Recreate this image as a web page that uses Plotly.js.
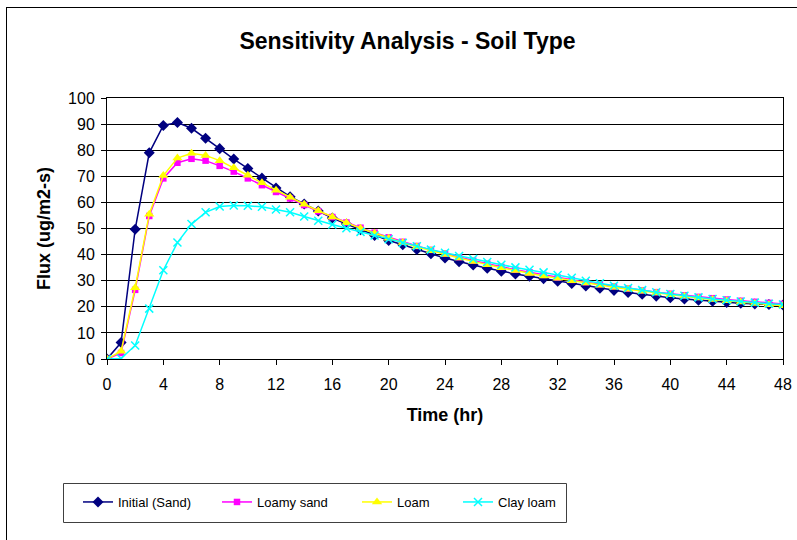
<!DOCTYPE html>
<html>
<head>
<meta charset="utf-8">
<script src="https://cdn.plot.ly/plotly-3.0.1.min.js"></script>
<style>
  html, body { margin: 0; padding: 0; background: #fff; }
  #chart { width: 797px; height: 540px; }
</style>
</head>
<body>
<div id="chart"></div>
<script>
const timeHr = [0,1,2,3,4,5,6,7,8,9,10,11,12,13,14,15,16,17,18,19,20,21,22,23,24,25,26,27,28,29,30,31,32,33,34,35,36,37,38,39,40,41,42,43,44,45,46,47,48];

const fluxSand = [0,6.3,49.7,79,89.5,90.6,88.4,84.6,80.6,76.6,73,69.3,65.5,62.2,59.4,56.7,54,51.7,49.5,47.3,45.4,43.8,42,40.3,38.7,37.3,36,34.8,33.6,32.6,31.7,30.8,29.8,28.9,28,27.1,26.3,25.5,24.8,24.1,23.5,23,22.5,22.1,21.7,21.4,21.1,20.9,20.7];

const fluxLoamySand = [0,2.3,26.5,54.8,69.2,75.2,76.7,76,74,71.8,69.2,66.6,64,61.5,59,56.6,54.4,52.3,50.3,48.4,46.6,44.9,43.3,41.8,40.4,39,37.7,36.5,35.3,34.2,33.2,32.2,31.2,30.3,29.4,28.6,27.8,27,26.3,25.6,25,24.4,23.8,23.3,22.8,22.3,21.9,21.5,21.1];

const fluxLoam = [0,3,27.3,55.5,70.3,77,78.8,78,76,73.3,70.4,67.5,64.7,62,59.3,56.8,54.4,52.2,50.1,48.2,46.3,44.6,43,41.5,40,38.7,37.4,36.1,35,33.9,32.8,31.8,30.9,30,29.1,28.3,27.5,26.7,26,25.3,24.6,24,23.4,22.8,22.3,21.8,21.3,20.8,20.4];

const fluxClayLoam = [0,0.2,5.2,19.3,34,44.6,51.7,56.2,58.4,58.8,58.7,58.3,57.3,56.2,54.6,53,51.5,50.1,48.7,47.3,45.9,44.5,43.2,41.9,40.7,39.5,38.3,37.2,36.1,35.1,34.2,33.2,32.2,31.1,30,29,28.1,27.2,26.4,25.6,24.9,24.2,23.6,23,22.5,22,21.6,21.2,20.9];

const seriesNames = ["Initial (Sand)", "Loamy sand", "Loam", "Clay loam"];
const xTicks = [0,4,8,12,16,20,24,28,32,36,40,44,48];
const yTicks = [0,10,20,30,40,50,60,70,80,90,100];

const FONT = "Liberation Sans, Arial, sans-serif";

const traces = [
  {
    x: timeHr, y: fluxSand, name: seriesNames[0], type: "scatter", mode: "lines+markers",
    line: {color: "#000080", width: 1.5},
    marker: {symbol: "diamond", size: 8.5, color: "#000080", line: {width: 0}},
    legend: "legend"
  },
  {
    x: timeHr, y: fluxLoamySand, name: seriesNames[1], type: "scatter", mode: "lines+markers",
    line: {color: "#FF00FF", width: 1.5},
    marker: {symbol: "square", size: 6.5, color: "#FF00FF", line: {width: 0}},
    legend: "legend2"
  },
  {
    x: timeHr, y: fluxLoam, name: seriesNames[2], type: "scatter", mode: "lines+markers",
    line: {color: "#FFFF00", width: 1.5},
    marker: {symbol: "triangle-up", size: 9, color: "#FFFF00", line: {width: 0}},
    legend: "legend3"
  },
  {
    x: timeHr, y: fluxClayLoam, name: seriesNames[3], type: "scatter", mode: "lines+markers",
    line: {color: "#00FFFF", width: 1.5},
    marker: {symbol: "x-thin", size: 8, color: "#00FFFF", line: {width: 1.5, color: "#00FFFF"}},
    legend: "legend4"
  }
];

// plot area: px x 107..783, y 98..359
const L = 107, R = 783, T = 98, B = 359;
const px2x = p => (p - L) / (R - L);
const px2y = p => (B - p) / (B - T);

function legendAt(pxX) {
  return {
    orientation: "h", x: px2x(pxX), xanchor: "left", y: px2y(502), yanchor: "middle",
    bgcolor: "rgba(0,0,0,0)", borderwidth: 0,
    font: {family: FONT, size: 13, color: "#000"}
  };
}

const layout = {
  width: 797, height: 540,
  margin: {l: L, r: 797 - R, t: T, b: 540 - B, pad: 0},
  paper_bgcolor: "#fff", plot_bgcolor: "#fff",
  font: {family: FONT, size: 13, color: "#000"},
  title: {
    text: "<b>Sensitivity Analysis - Soil Type</b>",
    font: {family: FONT, size: 23, color: "#000"},
    x: px2x(407.5), xanchor: "center", xref: "paper",
    y: 1 - 41 / 540, yanchor: "middle", yref: "container"
  },
  xaxis: {
    range: [0, 48], tickvals: xTicks, ticktext: xTicks.map(String),
    showgrid: false, zeroline: false,
    showline: true, linecolor: "#000", linewidth: 1, mirror: true,
    ticks: "outside", ticklen: 5, tickcolor: "#000", tickwidth: 1,
    ticklabelstandoff: 6,
    tickfont: {family: FONT, size: 16, color: "#000"},
    title: {text: "<b>Time (hr)</b>", font: {family: FONT, size: 18, color: "#000"}, standoff: 16}
  },
  yaxis: {
    range: [0, 100], tickvals: yTicks, ticktext: yTicks.map(String),
    showgrid: true, gridcolor: "#000", gridwidth: 1, zeroline: false,
    showline: true, linecolor: "#000", linewidth: 1, mirror: true,
    ticks: "outside", ticklen: 5, tickcolor: "#000", tickwidth: 1,
    ticklabelstandoff: 3,
    tickfont: {family: FONT, size: 16, color: "#000"},
    title: {text: "<b>Flux (ug/m2-s)</b>", font: {family: FONT, size: 18, color: "#000"}, standoff: 12}
  },
  legend: legendAt(78),
  legend2: legendAt(217),
  legend3: legendAt(357),
  legend4: legendAt(458),
  shapes: [
    {type: "rect", xref: "paper", yref: "paper",
     x0: px2x(63.5), x1: px2x(566.5), y0: px2y(522.5), y1: px2y(483.5),
     line: {color: "#404040", width: 1}, fillcolor: "rgba(0,0,0,0)", layer: "below"},
    {type: "line", xref: "paper", yref: "paper",
     x0: px2x(6.5), x1: px2x(6.5), y0: px2y(7), y1: px2y(545),
     line: {color: "#000", width: 1}},
    {type: "line", xref: "paper", yref: "paper",
     x0: px2x(6), x1: px2x(800), y0: px2y(7.5), y1: px2y(7.5),
     line: {color: "#000", width: 1}}
  ],
  showlegend: true
};

Plotly.newPlot("chart", traces, layout, {displayModeBar: false, staticPlot: true});
</script>
</body>
</html>
